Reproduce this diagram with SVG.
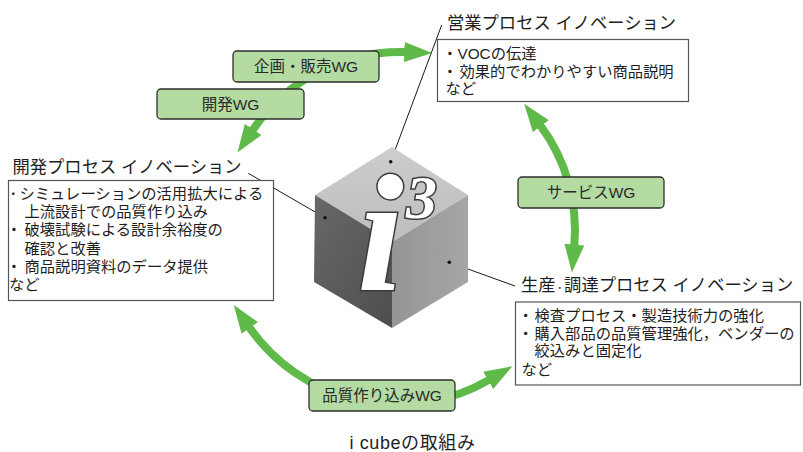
<svg xmlns="http://www.w3.org/2000/svg" width="803" height="452" viewBox="0 0 803 452">
  <style>
    .t { font-family: "Liberation Sans", "Noto Sans CJK JP", sans-serif; fill: #1e1e1e; }
    .title { font-size: 17.3px; }
    .body { font-size: 15.3px; }
    .wg-label { font-size: 15.5px; fill: #2a2a2a; text-anchor: middle; }
    .wg-box { fill: #b3dba2; stroke: #2e2e2e; stroke-width: 1.3; }
    .note { fill: #ffffff; stroke: #555555; stroke-width: 1.2; }
    .flow { fill: none; stroke: #5fba4a; stroke-width: 8; marker-start: url(#head); marker-end: url(#head); }
    .leader { stroke: #1a1a1a; stroke-width: 1; fill: none; }
    .glyph { font-family: "Liberation Serif", serif; font-weight: bold; font-style: italic; fill: #ffffff; stroke: #3a3a3a; stroke-width: 3; paint-order: stroke; }
  </style>
  <defs>
    <marker id="head" markerUnits="userSpaceOnUse" markerWidth="32" markerHeight="24" refX="1" refY="11" orient="auto-start-reverse">
      <path d="M0,1 L28,11 L0,21 Z" fill="#5fba4a"/>
    </marker>
    <linearGradient id="gTop" x1="0" y1="0" x2="0" y2="1">
      <stop offset="0" stop-color="#cdcdcd"/>
      <stop offset="1" stop-color="#bdbdbd"/>
    </linearGradient>
    <linearGradient id="gLeft" x1="0" y1="0" x2="1" y2="1">
      <stop offset="0" stop-color="#686868"/>
      <stop offset="1" stop-color="#4e4e4e"/>
    </linearGradient>
    <linearGradient id="gRight" x1="0" y1="0" x2="1" y2="0">
      <stop offset="0" stop-color="#959595"/>
      <stop offset="1" stop-color="#a6a6a6"/>
    </linearGradient>
  </defs>

  <!-- circular flow arrows between the three processes -->
  <g id="connectors">
    <path class="flow" d="M252.6,130.2 A178,178 0 0 1 405.3,52.1"/>
    <path class="flow" d="M540.3,125.4 A175,175 0 0 1 574.3,245.6"/>
    <path class="flow" d="M249.2,327.1 A181,181 0 0 0 489.0,379.9"/>
    <!-- leader lines from the process titles to the cube faces -->
    <line class="leader" x1="441.7" y1="25" x2="390.7" y2="161.7"/>
    <line class="leader" x1="248.3" y1="173.3" x2="325" y2="217.7"/>
    <line class="leader" x1="515" y1="286" x2="449.3" y2="262.3"/>
  </g>

  <!-- i cube -->
  <g id="cube">
    <polygon points="392,147 468,195 392,242 315,195" fill="url(#gTop)"/>
    <polygon points="315,195 392,242 392,328 314,282" fill="url(#gLeft)"/>
    <polygon points="392,242 468,195 468,282 392,328" fill="url(#gRight)"/>
    <text class="glyph" x="357" y="290" font-size="168">i</text>
    <text class="glyph" x="406" y="218" font-size="62">3</text>
    <circle cx="390.7" cy="161.7" r="1.8" fill="#111"/>
    <circle cx="325" cy="217.7" r="1.8" fill="#111"/>
    <circle cx="449.3" cy="262.3" r="1.8" fill="#111"/>
  </g>

  <!-- working groups -->
  <g id="wg-plan-sales">
    <rect class="wg-box" x="233" y="51" width="146" height="31" rx="4"/>
    <text class="t wg-label" x="306" y="71.5">企画・販売WG</text>
  </g>
  <g id="wg-dev">
    <rect class="wg-box" x="157" y="89" width="147" height="30" rx="4"/>
    <text class="t wg-label" x="230.5" y="109.5">開発WG</text>
  </g>
  <g id="wg-service">
    <rect class="wg-box" x="518" y="177" width="146" height="31" rx="4"/>
    <text class="t wg-label" x="591" y="197.5">サービスWG</text>
  </g>
  <g id="wg-quality">
    <rect class="wg-box" x="309" y="380" width="146" height="31" rx="4"/>
    <text class="t wg-label" x="382" y="400.5">品質作り込みWG</text>
  </g>

  <!-- sales process -->
  <g id="sales-process">
    <text class="t title" x="447" y="28.5">営業プロセス イノベーション</text>
    <rect class="note" x="437.5" y="39.5" width="251" height="62"/>
    <text class="t body" y="58.5"><tspan x="442.3">・</tspan><tspan x="457.5">VOCの伝達</tspan></text>
    <text class="t body" y="76.5"><tspan x="442.3">・</tspan><tspan x="459.5">効果的でわかりやすい商品説明</tspan></text>
    <text class="t body" x="445.5" y="93.5">など</text>
  </g>

  <!-- development process -->
  <g id="dev-process">
    <text class="t title" x="12.5" y="173">開発プロセス イノベーション</text>
    <rect class="note" x="8.5" y="180.5" width="265" height="120"/>
    <text class="t body" y="198.5"><tspan x="7.3" font-size="12">・</tspan><tspan x="19.5">シミュレーションの活用拡大による</tspan></text>
    <text class="t body" x="24.5" y="217">上流設計での品質作り込み</text>
    <text class="t body" y="235"><tspan x="6.3">・</tspan><tspan x="24.5">破壊試験による設計余裕度の</tspan></text>
    <text class="t body" x="24.5" y="253.5">確認と改善</text>
    <text class="t body" y="272"><tspan x="6.3">・</tspan><tspan x="24.5">商品説明資料のデータ提供</tspan></text>
    <text class="t body" x="9" y="290">など</text>
  </g>

  <!-- production and procurement process -->
  <g id="production-process">
    <text class="t title" x="521" y="291">生産<tspan font-size="8.5">・</tspan>調達プロセス イノベーション</text>
    <rect class="note" x="515.5" y="302" width="285" height="83"/>
    <text class="t body" y="321"><tspan x="518">・</tspan><tspan x="534.5">検査プロセス・製造技術力の強化</tspan></text>
    <text class="t body" y="338.5"><tspan x="518">・</tspan><tspan x="534.5">購入部品の品質管理強化，ベンダーの</tspan></text>
    <text class="t body" x="534.5" y="356">絞込みと固定化</text>
    <text class="t body" x="521.5" y="374.5">など</text>
  </g>

  <text id="caption" class="t" x="412.5" y="449" font-size="18" letter-spacing="0.6" text-anchor="middle">i cubeの取組み</text>
</svg>
